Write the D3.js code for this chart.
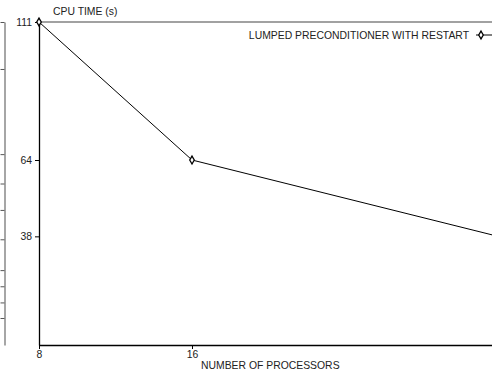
<!DOCTYPE html>
<html>
<head>
  <meta charset="utf-8">
<style>
  body { margin: 0; background: #fff; }
  svg text { font-family: "Liberation Sans", Arial, sans-serif; font-size: 10.4px; fill: #222; }
  .axis path, .axis line { stroke: #000; }
</style>
</head>
<body>
<svg width="492" height="373"></svg>
<script src="https://d3js.org/d3.v7.min.js"></script>
<script>

// data
var processors = [8, 16, 32];
var cpuTime = [111, 64, 38];
var yTicks = [111, 64, 38];
var xTicks = [8, 16];
var sideTicks = [111, 95, 66, 56, 47, 37, 26.5, 21, 15.5, 10.2];
var seriesName = "LUMPED PRECONDITIONER WITH RESTART";

var svg = d3.select("svg");

// scales
var x = d3.scaleLinear().domain([8, 32]).range([39, 498]);
var y = d3.scaleLinear().domain([1, 111]).range([345, 22]);

// grey side axis on the far left
var side = svg.append("g")
    .attr("transform", "translate(4.5,0)")
    .call(d3.axisLeft(y).tickValues(sideTicks).tickSize(4).tickSizeOuter(0).tickFormat(""));
side.select(".domain").attr("stroke", "#888").attr("stroke-width", 1.5);
side.selectAll(".tick line").attr("stroke", "#555");

// top border
svg.append("line")
    .attr("x1", x(8)).attr("x2", 492)
    .attr("y1", y(111)).attr("y2", y(111))
    .attr("stroke", "#444").attr("stroke-width", 1.2);

// y axis
var yAxis = svg.append("g")
    .attr("class", "axis")
    .attr("transform", "translate(" + x(8) + ",0)")
    .call(d3.axisLeft(y).tickValues(yTicks).tickSize(4).tickSizeOuter(0).tickPadding(3));
yAxis.select(".domain").attr("stroke-width", 1.3);
yAxis.selectAll("text").style("font-size", "10.4px").style("font-family", "Liberation Sans, Arial, sans-serif").attr("fill", "#222");

// x axis
var xAxis = svg.append("g")
    .attr("class", "axis")
    .attr("transform", "translate(0," + y(1) + ")")
    .call(d3.axisBottom(x).tickValues(xTicks).tickSize(4).tickSizeOuter(0).tickPadding(2));
xAxis.select(".domain").attr("stroke-width", 1.3);
xAxis.selectAll("text").style("font-size", "10.4px").style("font-family", "Liberation Sans, Arial, sans-serif").attr("fill", "#222");

// titles
svg.append("text").attr("x", 53).attr("y", 15).text("CPU TIME (s)");
svg.append("text").attr("x", 201).attr("y", 369).text("NUMBER OF PROCESSORS");

// series
var pts = processors.map(function(d, i) { return [d, cpuTime[i]]; });
var line = d3.line().x(function(d) { return x(d[0]); }).y(function(d) { return y(d[1]); });
svg.append("path")
    .datum(pts)
    .attr("d", line)
    .attr("fill", "none")
    .attr("stroke", "#000")
    .attr("stroke-width", 1);

var diamond = d3.symbol().type(d3.symbolDiamond).size(18);
svg.selectAll(".pt")
    .data(pts)
    .enter().append("path")
    .attr("class", "pt")
    .attr("transform", function(d) { return "translate(" + x(d[0]) + "," + y(d[1]) + ")"; })
    .attr("d", diamond)
    .attr("fill", "#fff")
    .attr("stroke", "#000")
    .attr("stroke-width", 1.3);

// legend
var lg = svg.append("g").attr("transform", "translate(0,35)");
lg.append("text").attr("x", 469).attr("y", 3.6).attr("text-anchor", "end").text(seriesName);
lg.append("line").attr("x1", 476).attr("x2", 492).attr("y1", 0).attr("y2", 0)
    .attr("stroke", "#000").attr("stroke-width", 1);
lg.append("path").attr("transform", "translate(481,0)").attr("d", diamond)
    .attr("fill", "#fff").attr("stroke", "#000").attr("stroke-width", 1.3);

</script>
</body>
</html>
